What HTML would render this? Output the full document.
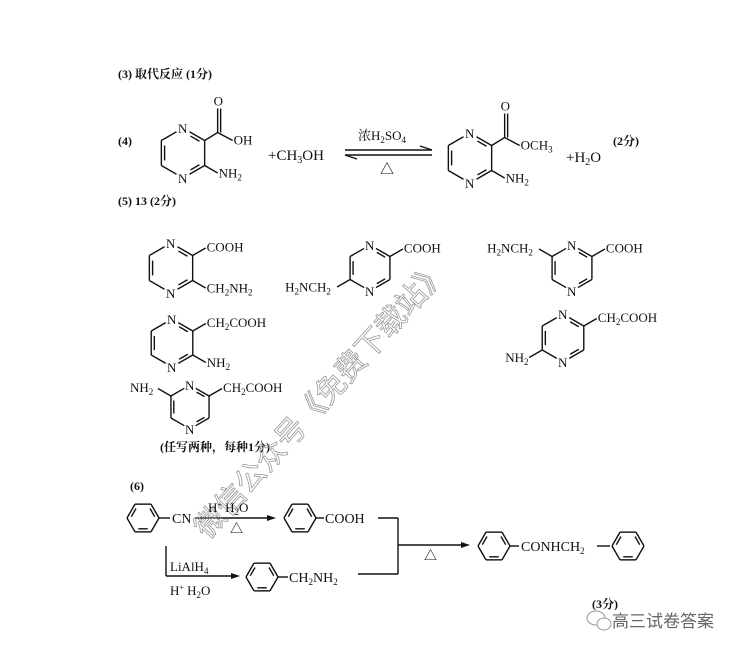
<!DOCTYPE html>
<html><head><meta charset="utf-8"><style>
html,body{margin:0;padding:0;background:#fff;}
svg{display:block;}
text{font-family:"Liberation Serif","Noto Serif CJK SC",serif;fill:#111;}
.c{font-family:"Liberation Serif","Noto Serif CJK SC",serif;font-weight:bold;}
</style></head><body>
<svg id="s" width="742" height="652" viewBox="0 0 742 652" xmlns="http://www.w3.org/2000/svg">
<g stroke="#111" stroke-width="1.4" fill="none" id="g"></g>
<g id="t" font-size="13">
<text class="c" x="118" y="78" font-size="12">(3) 取代反应 (1分)</text>
<text class="c" x="118" y="145" font-size="12">(4)</text>
<text x="268" y="160" font-size="15">+CH<tspan font-size="10" dy="3">3</tspan><tspan dy="-3">OH</tspan></text>
<text x="358" y="140" font-size="13">浓H<tspan font-size="9" dy="3">2</tspan><tspan dy="-3">SO</tspan><tspan font-size="9" dy="3">4</tspan></text>
<text x="380" y="174" font-size="14">△</text>
<text x="566" y="162" font-size="15">+H<tspan font-size="10" dy="3">2</tspan><tspan dy="-3">O</tspan></text>
<text class="c" x="613" y="145" font-size="12">(2分)</text>
<text class="c" x="118" y="205" font-size="12">(5) 13 (2分)</text>
<text class="c" x="160" y="451" font-size="12">(任写两种，每种1分)</text>
<text class="c" x="130" y="490" font-size="12">(6)</text>
<text class="c" x="592" y="608" font-size="12">(3分)</text>
<text x="612" y="627" font-size="17" style="fill:#666;font-family:'Noto Sans CJK SC',sans-serif">高三试卷答案</text>
<text x="0" y="0" font-size="30" transform="translate(208,540) rotate(-48)" style="fill:none;stroke:#999;stroke-width:0.8;font-family:'Noto Sans CJK SC',sans-serif">微信公众号《免费下载站》</text>
</g>
</svg>
<script>
var g=document.getElementById('g'),t=document.getElementById('t');
function L(x1,y1,x2,y2){g.insertAdjacentHTML('beforeend','<line x1="'+x1+'" y1="'+y1+'" x2="'+x2+'" y2="'+y2+'"/>');}
function T(x,y,s,fs){t.insertAdjacentHTML('beforeend','<text x="'+x+'" y="'+y+'" font-size="'+(fs||13)+'">'+s+'</text>');}
function sub(s){return s.replace(/_(\d)/g,'<tspan font-size="9" dy="3">$1</tspan><tspan dy="-3">\u200b</tspan>');}
function pyr(cx,cy,r){
 var v=[];for(var i=0;i<6;i++){var a=(-90+60*i)*Math.PI/180;v.push([cx+r*Math.cos(a),cy+r*Math.sin(a)]);}
 for(var i=0;i<6;i++){var p=v[i],q=v[(i+1)%6];var x1=p[0],y1=p[1],x2=q[0],y2=q[1];
  if(i==0||i==3){x1=p[0]+(q[0]-p[0])*0.3;y1=p[1]+(q[1]-p[1])*0.3;}
  if(i==2||i==5){x2=q[0]+(p[0]-q[0])*0.3;y2=q[1]+(p[1]-q[1])*0.3;}
  L(x1,y1,x2,y2);
  if(i==0||i==2||i==4){var mx=cx,my=cy;var f=0.15;
   var a1=[x1+(mx-x1)*f,y1+(my-y1)*f],a2=[x2+(mx-x2)*f,y2+(my-y2)*f];
   L(a1[0]+(a2[0]-a1[0])*0.15,a1[1]+(a2[1]-a1[1])*0.15,a2[0]-(a2[0]-a1[0])*0.15,a2[1]-(a2[1]-a1[1])*0.15);}
 }
 T(v[0][0]-5,v[0][1]+5,'N',13);T(v[3][0]-5,v[3][1]+5,'N',13);
 return v;}
function benz(cx,cy,r){
 var v=[];for(var i=0;i<6;i++){var a=(60*i)*Math.PI/180;v.push([cx+r*Math.cos(a),cy+r*Math.sin(a)]);}
 for(var i=0;i<6;i++){var p=v[i],q=v[(i+1)%6];L(p[0],p[1],q[0],q[1]);
  if(i%2==1){var f=0.22;var a1=[p[0]+(cx-p[0])*f,p[1]+(cy-p[1])*f],a2=[q[0]+(cx-q[0])*f,q[1]+(cy-q[1])*f];
   L(a1[0]+(a2[0]-a1[0])*0.12,a1[1]+(a2[1]-a1[1])*0.12,a2[0]-(a2[0]-a1[0])*0.12,a2[1]-(a2[1]-a1[1])*0.12);}}
 return v;}
function arrow(x1,y,x2){L(x1,y,x2-6,y);g.insertAdjacentHTML('beforeend','<polygon fill="#111" stroke="none" points="'+x2+','+y+' '+(x2-9)+','+(y-3)+' '+(x2-9)+','+(y+3)+'"/>');}
function UR(v,s,len){var p=v[1];L(p[0],p[1],p[0]+13,p[1]-7.5);T(p[0]+14,p[1]-4,sub(s));}
function LR(v,s){var p=v[2];L(p[0],p[1],p[0]+13,p[1]+7.5);T(p[0]+14,p[1]+12,sub(s));}
function UL(v,s,w){var p=v[5];L(p[0],p[1],p[0]-13,p[1]-7.5);T(p[0]-13-w,p[1]-4,sub(s));}
function LL(v,s,w){var p=v[4];L(p[0],p[1],p[0]-13,p[1]+7.5);T(p[0]-13-w,p[1]+12,sub(s));}
// (4)
var v=pyr(183,153,25);var p=v[1];L(p[0],p[1],p[0]+13,p[1]-8);L(p[0]+13,p[1]-8,p[0]+13,p[1]-32);L(p[0]+16,p[1]-8,p[0]+16,p[1]-32);
T(p[0]+9,p[1]-35,'O');L(p[0]+13,p[1]-8,p[0]+28,p[1]);T(p[0]+29,p[1]+4,'OH');LR(v,'NH_2');
L(345,150,432,150);L(345,155,432,155);L(420,146,432,150);L(345,155,357,159);
v=pyr(470,158,25);p=v[1];L(p[0],p[1],p[0]+13,p[1]-8);L(p[0]+13,p[1]-8,p[0]+13,p[1]-32);L(p[0]+16,p[1]-8,p[0]+16,p[1]-32);
T(p[0]+9,p[1]-35,'O');L(p[0]+13,p[1]-8,p[0]+28,p[1]);T(p[0]+29,p[1]+4,sub('OCH_3'));LR(v,'NH_2');
// (5)
v=pyr(171,268,25);UR(v,'COOH');LR(v,sub('CH_2NH_2'));
v=pyr(370,268,23);UR(v,'COOH');LL(v,'H_2NCH_2',52);
v=pyr(572,268,23);UR(v,'COOH');UL(v,'H_2NCH_2',52);
v=pyr(563,338,24);UR(v,'CH_2COOH');LL(v,'NH_2',24);
v=pyr(172,343,24);UR(v,'CH_2COOH');LR(v,'NH_2');
v=pyr(190,407,22);UR(v,'CH_2COOH');UL(v,'NH_2',28);
// (6)
v=benz(143,518,16);L(159,518,170,518);T(172,523,'CN',14);
arrow(195,518,276);T(208,512,'H<tspan font-size="8" dy="-5">+</tspan><tspan dy="5"> H</tspan><tspan font-size="9" dy="3">2</tspan><tspan dy="-3">O</tspan>',13);T(230,533,'△',13);
benz(300,518,16);L(316,518,324,518);T(325,523,'COOH',14);
L(378,518,398,518);L(398,518,398,574);L(358,574,398,574);arrow(398,545,470);T(424,560,'△',13);
L(166,546,166,576);arrow(166,576,240);T(170,571,'LiAlH<tspan font-size="9" dy="3">4</tspan>',13);
T(170,595,'H<tspan font-size="8" dy="-5">+</tspan><tspan dy="5">  H</tspan><tspan font-size="9" dy="3">2</tspan><tspan dy="-3">O</tspan>',13);
benz(262,577,16);L(278,577,288,577);T(289,582,sub('CH_2NH_2'),14);
benz(494,546,16);L(510,546,519,546);T(521,551,sub('CONHCH_2'),14);L(597,546,610,546);benz(628,546,16);
// wechat icon
g.insertAdjacentHTML('beforeend','<ellipse cx="596" cy="618" rx="9" ry="7" stroke="#999" stroke-width="1"/><ellipse cx="604" cy="624" rx="7" ry="6" stroke="#999" stroke-width="1" fill="#fff"/>');
</script>
</body></html>
